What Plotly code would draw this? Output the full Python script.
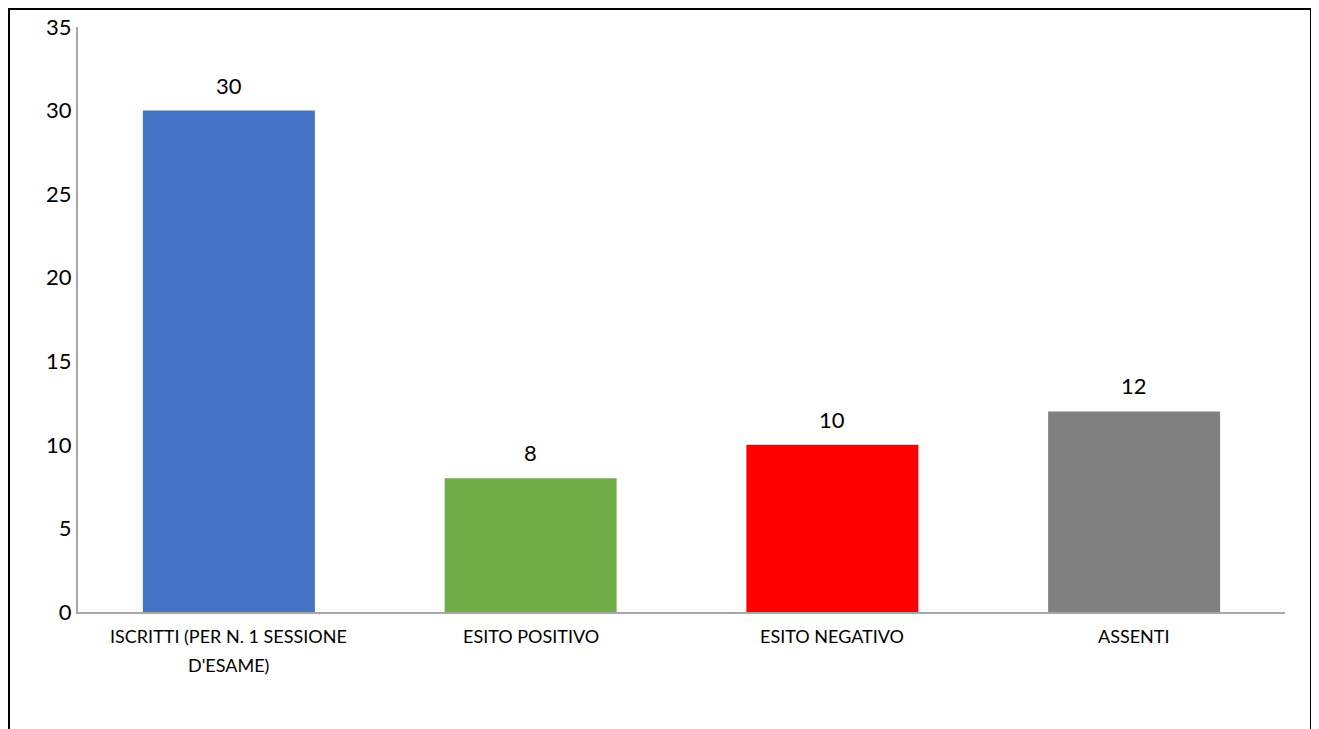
import plotly.graph_objects as go

categories = ["ISCRITTI (PER N. 1 SESSIONE D'ESAME)", "ESITO POSITIVO", "ESITO NEGATIVO", "ASSENTI"]
category_lines = [["ISCRITTI (PER N. 1 SESSIONE", "D'ESAME)"], ["ESITO POSITIVO"], ["ESITO NEGATIVO"], ["ASSENTI"]]
values = [30, 8, 10, 12]
colors = ["#4472C4", "#70AD47", "#FF0000", "#808080"]
y_ticks = [0, 5, 10, 15, 20, 25, 30, 35]

W, H = 1319, 729
OFF = 8  # page offset
L, R, T, B = 78 - OFF, 1319 - (1285 - OFF), 27 - OFF, 729 - (612 - OFF)
pw, ph = W - L - R, H - T - B

def px_x(p):
    return (p - OFF - L) / pw

def px_y(p):
    return (H - B - (p - OFF)) / ph

font = "Lato, 'Open Sans', sans-serif"

fig = go.Figure(go.Bar(
    x=categories, y=values, marker_color=colors, marker_line_width=0,
    cliponaxis=False, hoverinfo="x+y",
))

for c, v in zip(categories, values):
    fig.add_annotation(x=c, y=v, text=str(v), showarrow=False, yanchor="bottom",
                       yshift=10, font=dict(size=22, color="#000000", family=font))

for c, lines in zip(categories, category_lines):
    for i, line in enumerate(lines):
        fig.add_annotation(x=c, y=0, text=line, showarrow=False, yanchor="top",
                           yshift=-11 - 29 * i, xanchor="center",
                           font=dict(size=18, color="#000000", family=font))

fig.update_layout(
    width=W, height=H,
    margin=dict(l=L, r=R, t=T, b=B, autoexpand=False),
    plot_bgcolor="white", paper_bgcolor="white",
    bargap=0.43, showlegend=False,
    font=dict(family=font),
    shapes=[dict(type="rect", xref="paper", yref="paper",
                 x0=px_x(8.5), x1=px_x(1311.5), y0=px_y(780), y1=px_y(8.5),
                 line=dict(color="black", width=3), layer="above")],
)
fig.update_xaxes(showline=True, linecolor="#A6A6A6", linewidth=2, ticks="", automargin=False,
                 showticklabels=False, showgrid=False)
fig.update_yaxes(range=[0, 35], tickvals=y_ticks, showline=True, linecolor="#A6A6A6",
                 linewidth=2, showgrid=False, zeroline=False, ticks="", automargin=False,
                 tickfont=dict(size=22, color="#000000", family=font))

fig.write_html("out.html")
